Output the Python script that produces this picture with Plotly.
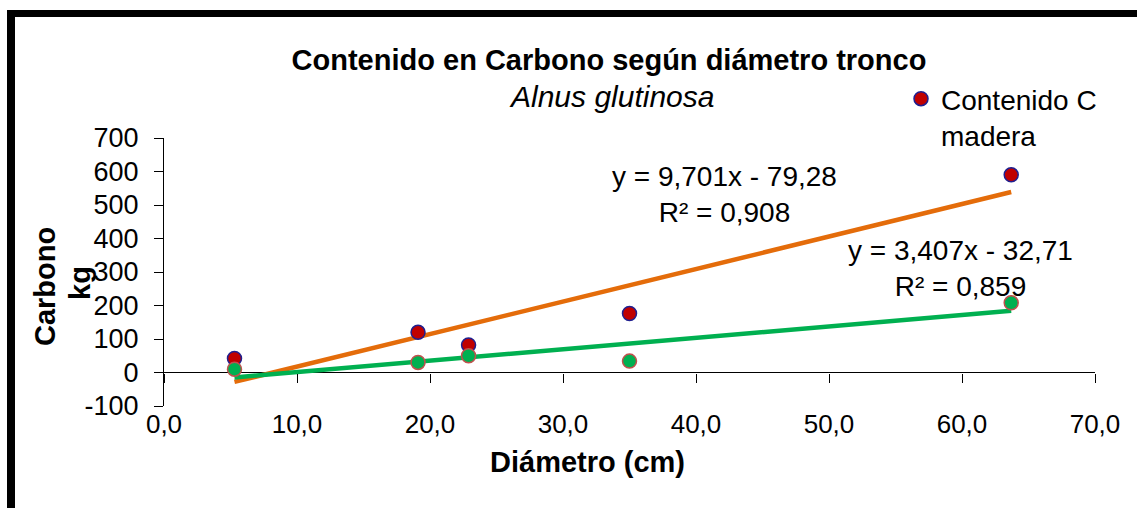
import plotly.graph_objects as go

# ---------------- data ----------------
diametro = [5.3, 19.1, 22.9, 35.0, 63.7]
carbono_madera = [42, 120, 82, 176, 590]
carbono_verde = [10, 30, 50, 34, 208]

# trendline coefficients (as printed on the chart)
fit_madera = (9.701, -79.28)
fit_verde = (3.407, -32.71)
eq_madera = ["y = 9,701x - 79,28", "R² = 0,908"]
eq_verde = ["y = 3,407x - 32,71", "R² = 0,859"]

x_ticks = [0, 10, 20, 30, 40, 50, 60, 70]
x_ticktext = ["0,0", "10,0", "20,0", "30,0", "40,0", "50,0", "60,0", "70,0"]
y_ticks = [-100, 0, 100, 200, 300, 400, 500, 600, 700]
y_ticktext = ["-100", "0", "100", "200", "300", "400", "500", "600", "700"]

title_line1 = "Contenido en Carbono según diámetro tronco"
title_line2 = "Alnus glutinosa"
legend_name = "Contenido C<br>madera"
x_title = "Diámetro (cm)"
y_title = ["Carbono", "kg"]

# ---------------- layout geometry ----------------
W, H = 1137, 508
L, R, T, B = 164, 1095, 138, 406


def px(x):
    return (x - L) / (R - L)


def py(y):
    return (B - y) / (B - T)


FONT = "Liberation Sans, Arial, sans-serif"
ORANGE = "#E46C0A"
GREEN = "#00B050"

fig = go.Figure()

xs = [min(diametro), max(diametro)]
fig.add_trace(go.Scatter(
    x=xs, y=[fit_madera[0] * v + fit_madera[1] for v in xs], mode="lines",
    line=dict(color=ORANGE, width=4.5), showlegend=False, hoverinfo="skip"))
fig.add_trace(go.Scatter(
    x=xs, y=[fit_verde[0] * v + fit_verde[1] for v in xs], mode="lines",
    line=dict(color=GREEN, width=4.5), showlegend=False, hoverinfo="skip"))

fig.add_trace(go.Scatter(
    x=diametro, y=carbono_madera, mode="markers", name=legend_name,
    marker=dict(color="#C00000", size=14, line=dict(color="#1F1F8F", width=1.5))))
fig.add_trace(go.Scatter(
    x=diametro, y=carbono_verde, mode="markers", showlegend=False,
    marker=dict(color=GREEN, size=14, line=dict(color="#C0504D", width=1.5))))

# invisible trace on the tick-only axis placed at y = 0
fig.add_trace(go.Scatter(x=[0], y=[0], xaxis="x2", yaxis="y", mode="markers",
                         marker=dict(opacity=0), showlegend=False, hoverinfo="skip"))

yr = [-100, 700]
fig.update_layout(
    width=W, height=H,
    margin=dict(l=L, r=W - R, t=T, b=H - B),
    paper_bgcolor="white", plot_bgcolor="white",
    font=dict(family=FONT, color="black"),
    title=dict(text="<b>" + title_line1 + "</b>", x=609 / W, xanchor="center",
               y=1 - 60 / H, yanchor="middle", font=dict(size=29, color="black")),
    xaxis=dict(range=[0, 70], tickvals=x_ticks, ticktext=x_ticktext,
               showgrid=False, zeroline=False, showline=False, ticks="",
               tickfont=dict(size=26), fixedrange=True),
    xaxis2=dict(range=[0, 70], overlaying="x", anchor="free",
                position=(0 - yr[0]) / (yr[1] - yr[0]), side="bottom",
                tickvals=x_ticks, showticklabels=False, ticks="outside",
                ticklen=9, tickcolor="black", tickwidth=1,
                showgrid=False, zeroline=False, showline=False),
    yaxis=dict(range=yr, tickvals=y_ticks, ticktext=y_ticktext,
               showgrid=False, zeroline=True, zerolinecolor="black", zerolinewidth=1,
               showline=True, linecolor="black", linewidth=1,
               ticks="outside", ticklen=9, tickcolor="black",
               tickfont=dict(size=27), ticklabelstandoff=10),
    legend=dict(x=px(901), y=py(74), xanchor="left", yanchor="top",
                font=dict(size=28), valign="top", bgcolor="rgba(0,0,0,0)"),
    showlegend=True,
)

ann = []
ann.append(dict(text="<i>" + title_line2 + "</i>", xref="paper", yref="paper",
                x=px(611), y=py(97), xanchor="center", yanchor="middle",
                showarrow=False, font=dict(size=30)))
ann.append(dict(text="<br>".join(eq_madera), xref="paper", yref="paper",
                x=px(724), y=py(194), xanchor="center", yanchor="middle",
                showarrow=False, font=dict(size=28)))
ann.append(dict(text="<br>".join(eq_verde), xref="paper", yref="paper",
                x=px(960), y=py(268), xanchor="center", yanchor="middle",
                showarrow=False, font=dict(size=28)))
ann.append(dict(text="<b>" + x_title + "</b>", xref="paper", yref="paper",
                x=px(587), y=py(462), xanchor="center", yanchor="middle",
                showarrow=False, font=dict(size=29)))
ann.append(dict(text="<b>" + y_title[0] + "</b>", xref="paper", yref="paper",
                x=px(45), y=py(287), xanchor="center", yanchor="middle",
                textangle=-90, showarrow=False, font=dict(size=29)))
ann.append(dict(text="<b>" + y_title[1] + "</b>", xref="paper", yref="paper",
                x=px(80), y=py(283), xanchor="center", yanchor="middle",
                textangle=-90, showarrow=False, font=dict(size=29)))
fig.update_layout(annotations=ann)

shapes = [
    dict(type="rect", xref="paper", yref="paper", x0=px(7), x1=px(15),
         y0=py(H + 5), y1=py(10), fillcolor="black", line=dict(width=0)),
    dict(type="rect", xref="paper", yref="paper", x0=px(7), x1=px(W + 5),
         y0=py(17), y1=py(10), fillcolor="black", line=dict(width=0)),
]
fig.update_layout(shapes=shapes)

fig.write_html("out.html")
